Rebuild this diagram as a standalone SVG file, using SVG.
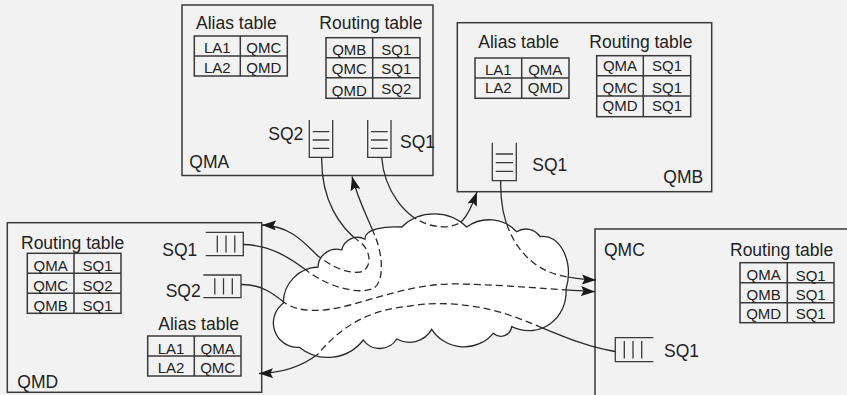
<svg xmlns="http://www.w3.org/2000/svg" width="847" height="395" viewBox="0 0 847 395">
<style>
.bg{fill:#f2f2f2}
.box{fill:#f2f2f2;stroke:#3a3a3a;stroke-width:1.5}
.tbl{fill:none;stroke:#3a3a3a;stroke-width:1.5}
.q{fill:none;stroke:#3a3a3a;stroke-width:1.3}
text{font-family:"Liberation Sans",Arial,Helvetica,sans-serif;fill:#222}
.lbl{font-size:17.5px}
.cell{font-size:15px;text-anchor:middle}
.cloud{fill:#fff;stroke:#2a2a2a;stroke-width:1.3}
.conn{fill:none;stroke:#2a2a2a;stroke-width:1.3}
.dash{fill:none;stroke:#2a2a2a;stroke-width:1.3;stroke-dasharray:7 4}
</style>
<defs>
<marker id="arr" markerUnits="userSpaceOnUse" viewBox="0 0 14 10" markerWidth="14" markerHeight="10" refX="14" refY="5" orient="auto">
<path d="M0,0 L14,5 L0,10 L2.5,5 z" fill="#1a1a1a"/>
</marker>
<path id="cloudShape" d="M283.3,303.3 A36,36 0 0 1 318,267 A18.5,18.5 0 0 1 341.7,250 A16,16 0 0 1 365,239.3 C364,229 385,226 401.7,227 A47,47 0 0 1 466.7,227 A38,38 0 0 1 516.7,231.7 A17,17 0 0 1 540,236.7 C560,233 574,262 566,289 C568,318 540,340 511.7,326.7 A11,11 0 0 1 493.3,333.3 A38.4,38.4 0 0 1 431.7,329.3 A26,26 0 0 1 396.7,339 A20,20 0 0 1 363.3,340 A45,45 0 0 1 299.3,347.3 A24.4,24.4 0 0 1 283.3,303.3 Z"/>
<mask id="outCloud" maskUnits="userSpaceOnUse" x="0" y="0" width="847" height="395">
<rect width="847" height="395" fill="#fff"/>
<use href="#cloudShape" fill="#000"/>
</mask>
<clipPath id="inCloud"><use href="#cloudShape"/></clipPath>
</defs>

<rect class="bg" width="847" height="395"/>

<g id="QMA">
<rect class="box" x="182" y="5" width="251" height="170.5"/>
<text class="lbl" x="196" y="29.3">Alias table</text>
<rect class="tbl" x="194.3" y="36" width="93" height="40"/>
<path class="tbl" d="M240.3,36 V76 M194.3,56 H287.3"/>
<text class="cell" x="217.3" y="53.3">LA1</text>
<text class="cell" x="263.8" y="53.3">QMC</text>
<text class="cell" x="217.3" y="73.3">LA2</text>
<text class="cell" x="263.8" y="73.3">QMD</text>
<text class="lbl" x="319.3" y="29.3">Routing table</text>
<rect class="tbl" x="326" y="37.7" width="94" height="60.6"/>
<path class="tbl" d="M372.7,37.7 V98.3 M326,57.7 H420 M326,77.7 H420"/>
<text class="cell" x="349.3" y="55">QMB</text>
<text class="cell" x="396.3" y="55">SQ1</text>
<text class="cell" x="349.3" y="74">QMC</text>
<text class="cell" x="396.3" y="74">SQ1</text>
<text class="cell" x="349.3" y="96">QMD</text>
<text class="cell" x="396.3" y="93.5">SQ2</text>
<text class="lbl" x="268.3" y="140">SQ2</text>
<path class="q" d="M309.3,120 V157.3 H332.7 V120 M312.7,131.7 H329.3 M312.7,140 H329.3 M312.7,148.3 H329.3"/>
<path class="q" d="M367.7,120 V157.3 H391 V120 M371,131.7 H387.7 M371,140 H387.7 M371,148.3 H387.7"/>
<text class="lbl" x="400" y="148.3">SQ1</text>
<text class="lbl" x="189.3" y="167.7">QMA</text>
</g>

<g id="QMB">
<rect class="box" x="457.3" y="22.7" width="254.4" height="169"/>
<text class="lbl" x="478.3" y="48.3">Alias table</text>
<rect class="tbl" x="475" y="58" width="94" height="40.3"/>
<path class="tbl" d="M521.7,58 V98.3 M475,78 H569"/>
<text class="cell" x="498.3" y="74.5">LA1</text>
<text class="cell" x="545.3" y="74.5">QMA</text>
<text class="cell" x="498.3" y="93">LA2</text>
<text class="cell" x="545.3" y="93">QMD</text>
<text class="lbl" x="589.3" y="48.3">Routing table</text>
<rect class="tbl" x="596.7" y="55.7" width="94" height="61"/>
<path class="tbl" d="M643.3,55.7 V116.7 M596.7,75.7 H690.7 M596.7,96 H690.7"/>
<text class="cell" x="620" y="70.5">QMA</text>
<text class="cell" x="667" y="70.5">SQ1</text>
<text class="cell" x="620" y="92.5">QMC</text>
<text class="cell" x="667" y="92.5">SQ1</text>
<text class="cell" x="620" y="110.5">QMD</text>
<text class="cell" x="667" y="110.5">SQ1</text>
<path class="q" d="M492.3,142.7 V180.7 H516.3 V142.7 M495.7,154 H513 M495.7,162.7 H513 M495.7,171.3 H513"/>
<text class="lbl" x="532.3" y="171">SQ1</text>
<text class="lbl" x="663.3" y="183">QMB</text>
</g>

<g id="QMD">
<rect class="box" x="7.3" y="222.7" width="254.4" height="169.6"/>
<text class="lbl" x="21" y="249.3">Routing table</text>
<rect class="tbl" x="27.3" y="253.3" width="93.7" height="60"/>
<path class="tbl" d="M74,253.3 V313.3 M27.3,273.3 H121 M27.3,293.3 H121"/>
<text class="cell" x="50.7" y="271">QMA</text>
<text class="cell" x="97.5" y="271">SQ1</text>
<text class="cell" x="50.7" y="291">QMC</text>
<text class="cell" x="97.5" y="291">SQ2</text>
<text class="cell" x="50.7" y="310.7">QMB</text>
<text class="cell" x="97.5" y="310.7">SQ1</text>
<text class="lbl" x="162.3" y="256">SQ1</text>
<path class="q" d="M205.7,232.3 H243.3 V255.7 H205.7 M217.3,235.5 V252.5 M226,235.5 V252.5 M234.8,235.5 V252.5"/>
<text class="lbl" x="165.7" y="296.7">SQ2</text>
<path class="q" d="M203.3,275 H241 V297.7 H203.3 M214.8,278.2 V294.5 M223.5,278.2 V294.5 M232.3,278.2 V294.5"/>
<text class="lbl" x="158.3" y="330">Alias table</text>
<rect class="tbl" x="147.7" y="336" width="93.3" height="40"/>
<path class="tbl" d="M194.3,336 V376 M147.7,356 H241"/>
<text class="cell" x="171" y="353.5">LA1</text>
<text class="cell" x="217.7" y="353.5">QMA</text>
<text class="cell" x="171" y="373">LA2</text>
<text class="cell" x="217.7" y="373">QMC</text>
<text class="lbl" x="17.3" y="388.3">QMD</text>
</g>

<g id="QMC">
<rect class="box" x="595" y="229" width="270" height="190"/>
<text class="lbl" x="604" y="256">QMC</text>
<text class="lbl" x="730" y="256">Routing table</text>
<rect class="tbl" x="740" y="262.7" width="94" height="60"/>
<path class="tbl" d="M787.3,262.7 V322.7 M740,282.7 H834 M740,302.7 H834"/>
<text class="cell" x="763.7" y="280">QMA</text>
<text class="cell" x="810.7" y="280.5">SQ1</text>
<text class="cell" x="763.7" y="300">QMB</text>
<text class="cell" x="810.7" y="300">SQ1</text>
<text class="cell" x="763.7" y="319">QMD</text>
<text class="cell" x="810.7" y="319">SQ1</text>
<path class="q" d="M653.3,337.7 H615.3 V361.7 H653.3 M624.3,341 V358.5 M633,341 V358.5 M641.7,341 V358.5"/>
<text class="lbl" x="664" y="356.7">SQ1</text>
</g>

<g id="network">
<use href="#cloudShape" class="cloud"/>
</g>

<g id="connectors">
<g mask="url(#outCloud)">
<path class="conn" marker-end="url(#arr)" d="M321.7,157.3 C321,200 340,228 360,242 C372,251 372,270 360,272 C345,274 330,265 318,256 C305,244 292,226 262,225"/>
<path class="conn" marker-end="url(#arr)" d="M243.3,244.5 C270,245 290,258 306,270 C325,285 355,295 372,289 C385,284 383,255 375,236 C368,218 358,200 352,176.5"/>
<path class="conn" marker-end="url(#arr)" d="M381.7,157.3 C384,190 405,218 430,225 C445,229 458,226 463,220 C470,212 474,200 477,192"/>
<path class="conn" marker-end="url(#arr)" d="M500.7,181 C500,215 510,245 535,264 C550,275 570,279 596,280"/>
<path class="conn" marker-end="url(#arr)" d="M241,284.5 C262,284 275,295 285,303 C298,312 320,313 350,305 C390,294 420,283 460,284 C510,285 560,290 595,291.7"/>
<path class="conn" marker-end="url(#arr)" d="M615.3,351.5 C580,346 550,330 515,317 C485,306 445,300 410,306 C365,310 338,330 318,354 C300,368 280,373 259,373.5"/>
</g>
<g clip-path="url(#inCloud)">
<path class="dash" d="M321.7,157.3 C321,200 340,228 360,242 C372,251 372,270 360,272 C345,274 330,265 318,256 C305,244 292,226 262,225"/>
<path class="dash" d="M243.3,244.5 C270,245 290,258 306,270 C325,285 355,295 372,289 C385,284 383,255 375,236 C368,218 358,200 352,176.5"/>
<path class="dash" d="M381.7,157.3 C384,190 405,218 430,225 C445,229 458,226 463,220 C470,212 474,200 477,192"/>
<path class="dash" d="M500.7,181 C500,215 510,245 535,264 C550,275 570,279 596,280"/>
<path class="dash" d="M241,284.5 C262,284 275,295 285,303 C298,312 320,313 350,305 C390,294 420,283 460,284 C510,285 560,290 595,291.7"/>
<path class="dash" d="M615.3,351.5 C580,346 550,330 515,317 C485,306 445,300 410,306 C365,310 338,330 318,354 C300,368 280,373 259,373.5"/>
</g>
</g>
</svg>
